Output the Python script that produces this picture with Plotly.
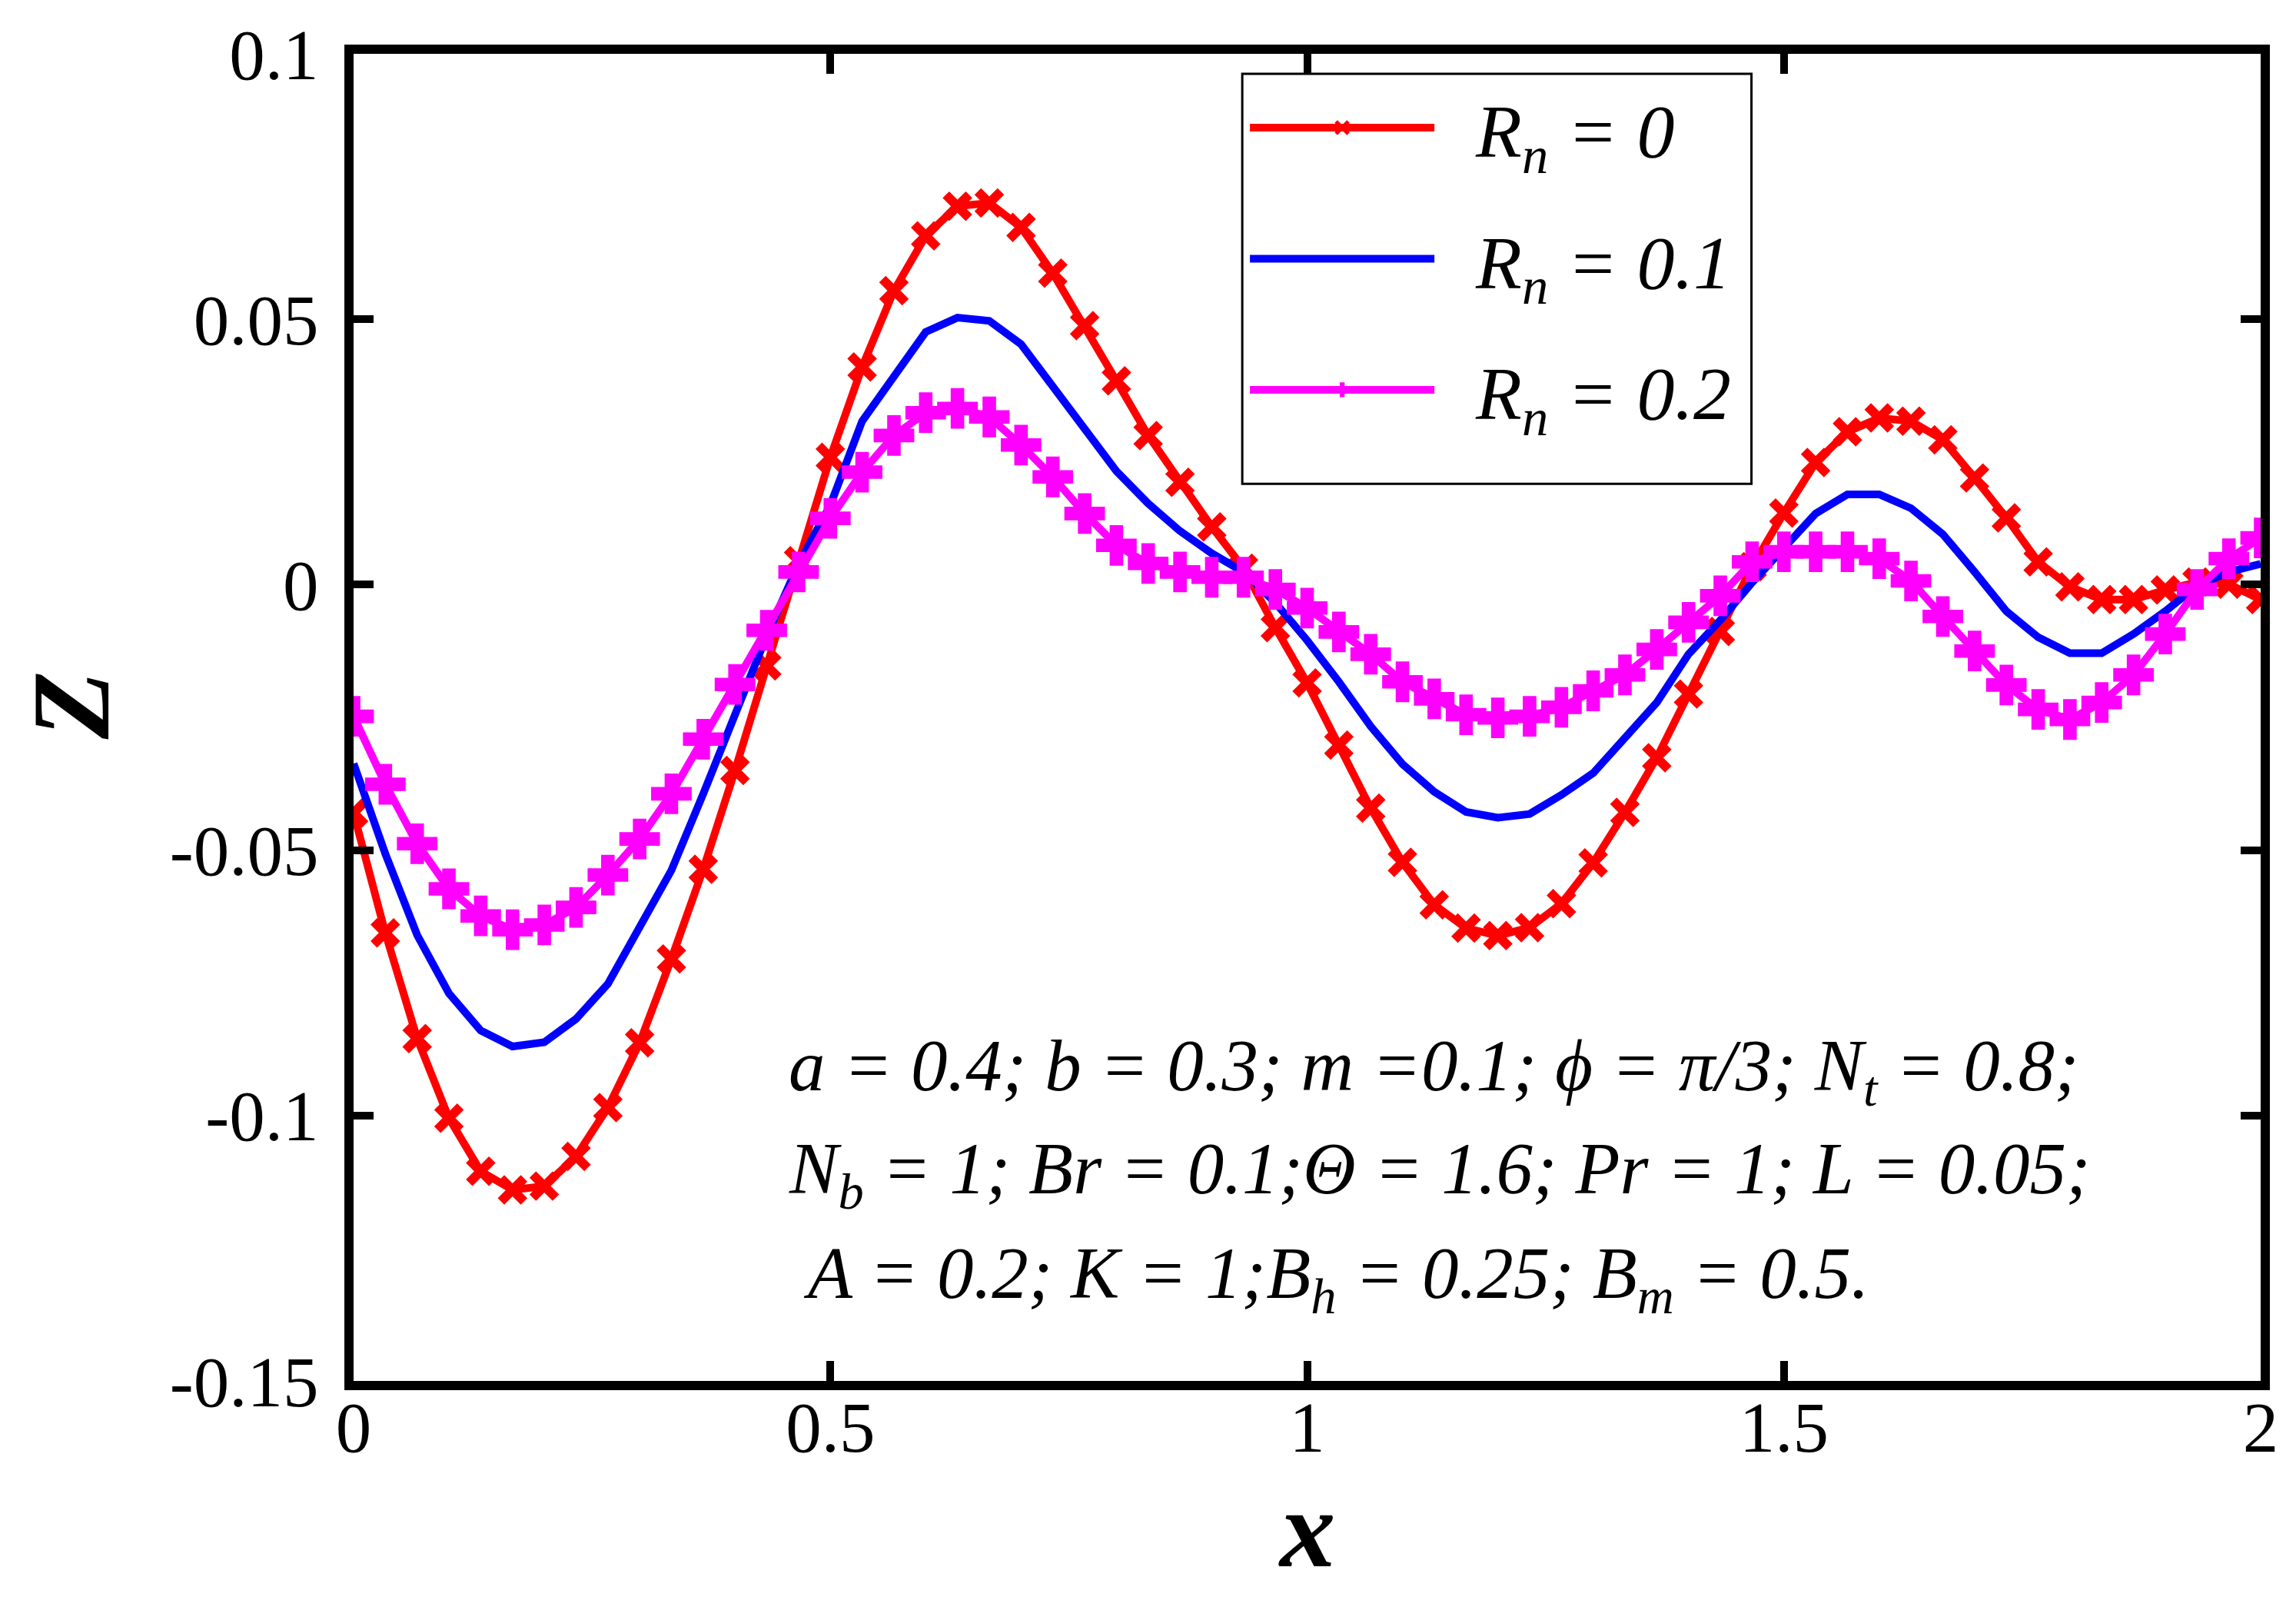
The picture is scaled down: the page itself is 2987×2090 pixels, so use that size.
import plotly.graph_objects as go

# x grid (61 points on [0, 2])
x_vals = [0.0, 0.0333, 0.0667, 0.1, 0.1333, 0.1667, 0.2, 0.2333, 0.2667, 0.3,
          0.3333, 0.3667, 0.4, 0.4333, 0.4667, 0.5, 0.5333, 0.5667, 0.6, 0.6333,
          0.6667, 0.7, 0.7333, 0.7667, 0.8, 0.8333, 0.8667, 0.9, 0.9333, 0.9667,
          1.0, 1.0333, 1.0667, 1.1, 1.1333, 1.1667, 1.2, 1.2333, 1.2667, 1.3,
          1.3333, 1.3667, 1.4, 1.4333, 1.4667, 1.5, 1.5333, 1.5667, 1.6, 1.6333,
          1.6667, 1.7, 1.7333, 1.7667, 1.8, 1.8333, 1.8667, 1.9, 1.9333, 1.9667, 2.0]

# Rn = 0
z_rn0 = [-0.0430, -0.0656, -0.0855, -0.1005, -0.1105, -0.1140, -0.1133, -0.1077, -0.0985, -0.0863,
         -0.0705, -0.0536, -0.0350, -0.0153, 0.0045, 0.0240, 0.0410, 0.0554, 0.0657, 0.0713,
         0.0719, 0.0673, 0.0587, 0.0488, 0.0384, 0.0281, 0.0193, 0.0109, 0.0031, -0.0081,
         -0.0185, -0.0302, -0.0421, -0.0523, -0.0603, -0.0647, -0.0661, -0.0646, -0.0601, -0.0524,
         -0.0429, -0.0326, -0.0206, -0.0088, 0.0034, 0.0135, 0.0230, 0.0288, 0.0314, 0.0308,
         0.0273, 0.0201, 0.0126, 0.0043, -0.0004, -0.0028, -0.0028, -0.0010, 0.0005, 0.0001, -0.0028]

# Rn = 0.1
z_rn1 = [-0.0337, -0.0507, -0.0660, -0.0770, -0.0840, -0.0870, -0.0862, -0.0818, -0.0752, -0.0647,
         -0.0538, -0.0394, -0.0245, -0.0096, 0.0039, 0.0150, 0.0308, 0.0395, 0.0476, 0.0503,
         0.0497, 0.0453, 0.0372, 0.0295, 0.0214, 0.0153, 0.0101, 0.0059, 0.0024, -0.0034,
         -0.0105, -0.0183, -0.0267, -0.0338, -0.0390, -0.0428, -0.0439, -0.0432, -0.0396, -0.0355,
         -0.0286, -0.0222, -0.0131, -0.0067, 0.0004, 0.0069, 0.0134, 0.0170, 0.0170, 0.0144,
         0.0095, 0.0024, -0.0050, -0.0099, -0.0129, -0.0129, -0.0093, -0.0050, -0.0002, 0.0024, 0.0039]

# Rn = 0.2
z_rn2 = [-0.0248, -0.0376, -0.0488, -0.0573, -0.0624, -0.0650, -0.0641, -0.0608, -0.0547, -0.0479,
         -0.0394, -0.0291, -0.0188, -0.0086, 0.0024, 0.0125, 0.0212, 0.0281, 0.0324, 0.0332,
         0.0316, 0.0263, 0.0203, 0.0134, 0.0074, 0.0040, 0.0024, 0.0014, 0.0014, -0.0009,
         -0.0044, -0.0089, -0.0131, -0.0183, -0.0215, -0.0245, -0.0251, -0.0248, -0.0231, -0.0200,
         -0.0170, -0.0122, -0.0071, -0.0021, 0.0043, 0.0062, 0.0062, 0.0062, 0.0049, 0.0007,
         -0.0060, -0.0125, -0.0189, -0.0235, -0.0254, -0.0222, -0.0170, -0.0093, -0.0009, 0.0049, 0.0088]

x_ticks = [0, 0.5, 1, 1.5, 2]
x_labels = ["0", "0.5", "1", "1.5", "2"]
y_ticks = [0.1, 0.05, 0, -0.05, -0.1, -0.15]
y_labels = ["0.1", "0.05", "0", "-0.05", "-0.1", "-0.15"]

params = [
    "a = 0.4; b = 0.3; m =0.1; \u03d5 = \u03c0/3; N<sub>t</sub> = 0.8;",
    "N<sub>b</sub> = 1; Br = 0.1;\u0398 = 1.6; Pr = 1; L = 0.05;",
    "A = 0.2; K = 1;B<sub>h</sub> = 0.25; B<sub>m</sub> = 0.5.",
]

FONT = "Liberation Serif"
NB = "\u00a0"

fig = go.Figure()
fig.add_trace(go.Scatter(
    x=x_vals, y=z_rn0, mode="lines+markers", legendgroup="a",
    name=NB * 2 + "<i>R<sub>n</sub> = 0</i>" + NB,
    line=dict(color="#ff0000", width=10),
    marker=dict(symbol="x-thin", size=30, color="#ff0000",
                line=dict(color="#ff0000", width=12))))
fig.add_trace(go.Scatter(
    x=x_vals, y=z_rn1, mode="lines", legendgroup="b",
    name=NB * 2 + "<i>R<sub>n</sub> = 0.1</i>" + NB,
    line=dict(color="#0000ff", width=10)))
fig.add_trace(go.Scatter(
    x=x_vals, y=z_rn2, mode="lines+markers", legendgroup="c",
    name=NB * 2 + "<i>R<sub>n</sub> = 0.2</i>" + NB,
    line=dict(color="#ff00ff", width=10),
    marker=dict(symbol="cross", size=44, color="#ff00ff")))

axis_common = dict(
    showline=True, linecolor="black", linewidth=12, mirror="ticks",
    ticks="inside", ticklen=26, tickwidth=10, tickcolor="black",
    showgrid=False, zeroline=False,
    tickfont=dict(family=FONT, size=93, color="black"),
)

fig.update_xaxes(range=[0, 2], tickvals=x_ticks, ticktext=x_labels,
                 ticklabelstandoff=-32, **axis_common)
fig.update_yaxes(range=[-0.15, 0.1], tickvals=y_ticks, ticktext=y_labels,
                 ticklabelstandoff=15, **axis_common)

# parameter block
for txt, xx, yy in zip(params, [0.455, 0.455, 0.470], [-0.0915, -0.1110, -0.1306]):
    fig.add_annotation(x=xx, y=yy, xref="x", yref="y", text="<i>" + txt + "</i>",
                       showarrow=False, xanchor="left", yanchor="middle",
                       font=dict(family=FONT, size=95, color="black"))

# axis titles
fig.add_annotation(x=0.5, y=-0.111, xref="paper", yref="paper",
                   xanchor="center", yanchor="middle",
                   text="<b><i>x</i></b>", showarrow=False,
                   font=dict(family=FONT, size=145, color="black"))
fig.add_annotation(x=-0.148, y=0.509, xref="paper", yref="paper",
                   xanchor="center", yanchor="middle",
                   text="<b><i>Z</i></b>", showarrow=False, textangle=-90,
                   font=dict(family=FONT, size=145, color="black"))

# frame around the legend
fig.add_shape(type="rect", xref="paper", yref="paper",
              x0=0.466, x1=0.733, y0=0.676, y1=0.985,
              line=dict(color="black", width=3), fillcolor="rgba(0,0,0,0)",
              layer="above")

fig.update_layout(
    width=2987, height=2090, autosize=False,
    margin=dict(l=452, r=54, t=60, b=302),
    plot_bgcolor="white", paper_bgcolor="white",
    legend=dict(x=0.468, y=0.985, xanchor="left", yanchor="top",
                bgcolor="rgba(0,0,0,0)", borderwidth=0,
                font=dict(family=FONT, size=98, color="black"),
                itemwidth=240, tracegroupgap=40),
)

fig.write_html("out.html")
